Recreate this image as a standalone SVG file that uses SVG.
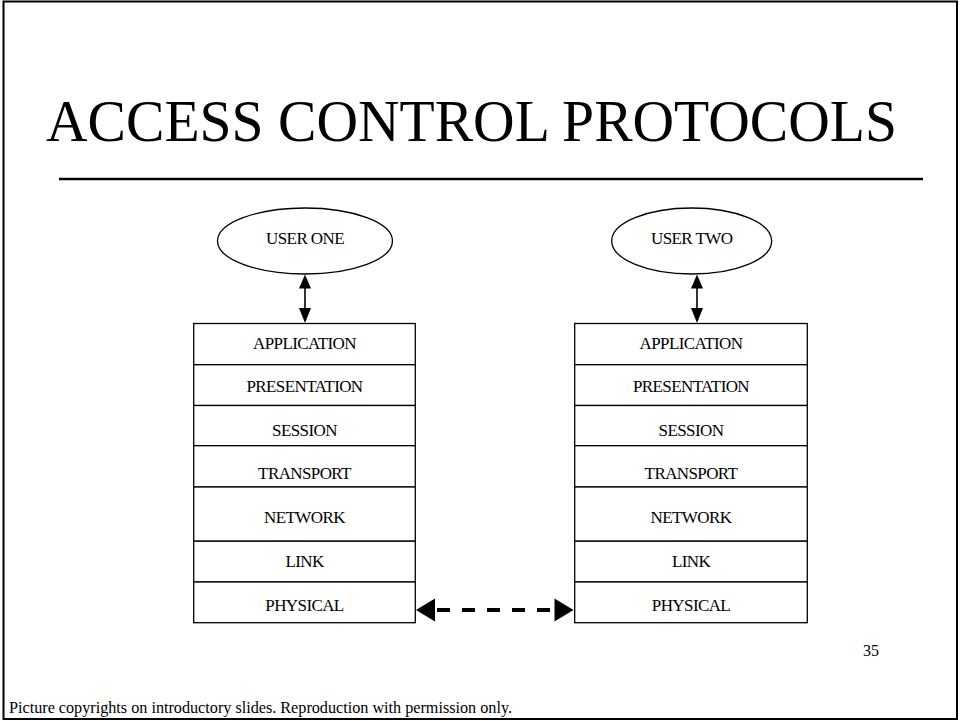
<svg xmlns="http://www.w3.org/2000/svg" width="960" height="721" viewBox="0 0 960 721">
<defs>
<style>
text{font-family:"Liberation Serif","Times New Roman",serif;fill:#000}
.lbl{font-size:17px;text-anchor:middle;letter-spacing:-0.6px}
.box{fill:#fff;stroke:#000;stroke-width:1.3}
.ell{fill:#fff;stroke:#000;stroke-width:1.3}
.conn{stroke:#000;stroke-width:1.6;fill:none}
.dash{stroke:#000;stroke-width:4;fill:none;stroke-dasharray:13 12}
.head{fill:#000}
</style>
</defs>
<rect width="960" height="721" fill="#fff"/>
<rect x="3.5" y="1.5" width="953.5" height="717.5" fill="none" stroke="#000" stroke-width="2"/>
<text id="title" x="46" y="140.5" font-size="59" textLength="851" lengthAdjust="spacingAndGlyphs">ACCESS CONTROL PROTOCOLS</text>
<line x1="59" y1="179" x2="923" y2="179" stroke="#000" stroke-width="2.5"/>

<g id="user-one">
<ellipse class="ell" cx="305" cy="241" rx="87.5" ry="33"/>
<text class="lbl" x="305" y="243.5">USER ONE</text>
</g>
<g id="user-two">
<ellipse class="ell" cx="691.7" cy="241" rx="80" ry="33"/>
<text class="lbl" x="691.7" y="243.5">USER TWO</text>
</g>

<g id="stack-one">
<rect class="box" x="193.7" y="323.5" width="221.6" height="41.2"/>
<rect class="box" x="193.7" y="364.7" width="221.6" height="40.8"/>
<rect class="box" x="193.7" y="405.5" width="221.6" height="40.2"/>
<rect class="box" x="193.7" y="445.7" width="221.6" height="41.3"/>
<rect class="box" x="193.7" y="487" width="221.6" height="54.2"/>
<rect class="box" x="193.7" y="541.2" width="221.6" height="40.8"/>
<rect class="box" x="193.7" y="582" width="221.6" height="40.7"/>
<text class="lbl" x="304.5" y="349.3">APPLICATION</text>
<text class="lbl" x="304.5" y="391.7">PRESENTATION</text>
<text class="lbl" x="304.5" y="436">SESSION</text>
<text class="lbl" x="304.5" y="479">TRANSPORT</text>
<text class="lbl" x="304.5" y="523">NETWORK</text>
<text class="lbl" x="304.5" y="566.7">LINK</text>
<text class="lbl" x="304.5" y="610.7">PHYSICAL</text>
</g>

<g id="stack-two">
<rect class="box" x="574.7" y="323.5" width="232.6" height="41.2"/>
<rect class="box" x="574.7" y="364.7" width="232.6" height="40.8"/>
<rect class="box" x="574.7" y="405.5" width="232.6" height="40.2"/>
<rect class="box" x="574.7" y="445.7" width="232.6" height="41.3"/>
<rect class="box" x="574.7" y="487" width="232.6" height="54.2"/>
<rect class="box" x="574.7" y="541.2" width="232.6" height="40.8"/>
<rect class="box" x="574.7" y="582" width="232.6" height="40.7"/>
<text class="lbl" x="691" y="349.3">APPLICATION</text>
<text class="lbl" x="691" y="391.7">PRESENTATION</text>
<text class="lbl" x="691" y="436">SESSION</text>
<text class="lbl" x="691" y="479">TRANSPORT</text>
<text class="lbl" x="691" y="523">NETWORK</text>
<text class="lbl" x="691" y="566.7">LINK</text>
<text class="lbl" x="691" y="610.7">PHYSICAL</text>
</g>

<g id="connectors">
<line class="conn" x1="305" y1="286" x2="305" y2="310"/>
<polygon class="head" points="305,274.5 299,288.5 311,288.5"/>
<polygon class="head" points="305,323 299,308 311,308"/>
<line class="conn" x1="697" y1="286" x2="697" y2="310"/>
<polygon class="head" points="697,274.5 691,288.5 703,288.5"/>
<polygon class="head" points="697,323 691,308 703,308"/>
<line class="dash" x1="437" y1="610" x2="556" y2="610"/>
<polygon class="head" points="416,610 435,598.5 435,621.5"/>
<polygon class="head" points="573.5,610 554.5,598.5 554.5,621.5"/>
</g>

<text id="page" x="871" y="656" font-size="16" text-anchor="middle">35</text>
<text id="footer" x="9" y="712.5" font-size="16" textLength="503" lengthAdjust="spacingAndGlyphs">Picture copyrights on introductory slides. Reproduction with permission only.</text>
</svg>
